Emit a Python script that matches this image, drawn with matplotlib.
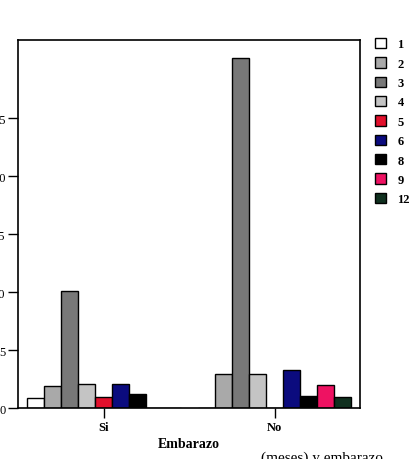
import numpy as np
import matplotlib
matplotlib.use('Agg')
import matplotlib.pyplot as plt
from matplotlib.patches import Patch

# grupos del eje x
grupos = ['Si', 'No']

# categorias de la leyenda
categorias = ['1', '2', '3', '4', '5', '6', '8', '9', '12']

# valores (uno por categoria)
valores_si = [0.9, 1.9, 10.1, 2.1, 1.0, 2.1, 1.2, 0, 0]
valores_no = [0, 3.0, 30.2, 3.0, 0, 3.3, 1.1, 2.0, 1.0]

colores = ['#ffffff', '#a9a9a9', '#787878', '#c4c4c4', '#e2102c',
           '#0b0b7e', '#000000', '#ee1262', '#10301f']

plt.rcParams['font.family'] = ['Liberation Serif', 'DejaVu Serif']

fig = plt.figure(figsize=(4.11, 4.60), dpi=100)
ax = fig.add_axes([0.044, 0.11, 0.832, 0.80])

ancho = 0.1
x = np.arange(len(grupos))
for i, cat in enumerate(categorias):
  pos = x - 0.4 + i * ancho
  ax.bar(pos, [valores_si[i], valores_no[i]], width=ancho,
         color=colores[i], edgecolor='black', linewidth=1.0)

ax.set_xlim(-0.5, 1.5)
ax.set_ylim(0, 31.7)
ax.set_yticks([0, 5, 10, 15, 20, 25])
ax.set_xticks(x)
ax.set_xticklabels(grupos, fontsize=9, fontweight='bold')
ax.tick_params(axis='y', labelsize=9, length=7, width=1.0, pad=2)
ax.tick_params(axis='x', length=7, width=1.0, pad=2)
for s in ax.spines.values():
  s.set_linewidth(1.2)

ax.set_xlabel('Embarazo', fontsize=10, fontweight='bold', labelpad=3)

# leyenda fuera del grafico
handles = [Patch(facecolor=c, edgecolor='black', linewidth=1.0) for c in colores]
fig.legend(handles, categorias, loc='upper left', bbox_to_anchor=(0.885, 0.94),
           frameon=False, handlelength=0.9, handleheight=0.9, handletextpad=0.9,
           labelspacing=0.55, prop={'size': 9, 'weight': 'bold'})

# pie de figura cortado en el borde inferior
fig.text(0.94, 0.019, '(meses) y embarazo.', fontsize=11, ha='right', va='top')

fig.savefig('out.png', dpi=100)
